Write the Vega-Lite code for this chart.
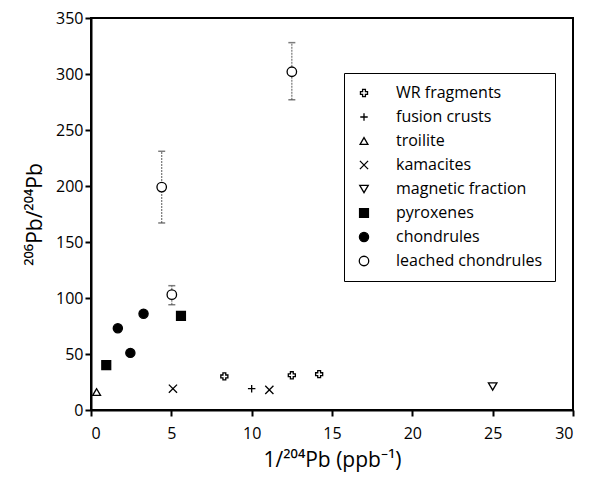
{
  "$schema": "https://vega.github.io/schema/vega-lite/v6.json",
  "width": 482,
  "height": 392,
  "autosize": "none",
  "padding": {"left": 91, "top": 18, "right": 17, "bottom": 73},
  "background": "white",
  "config": {
    "font": "Open Sans",
    "view": {"stroke": "black", "strokeWidth": 2},
    "axis": {"grid": false, "domainColor": "black", "domainWidth": 2, "tickColor": "black", "tickWidth": 2, "labelColor": "black", "titleColor": "black", "labelFont": "Open Sans", "titleFont": "Open Sans", "titleFontWeight": "normal", "labelFontSize": 16, "titleFontSize": 21}
  },
  "data": {"values": [
    {"type": "WR fragments", "x": 8.3, "y": 30, "lo": null, "hi": null},
    {"type": "WR fragments", "x": 12.5, "y": 31, "lo": null, "hi": null},
    {"type": "WR fragments", "x": 14.2, "y": 32, "lo": null, "hi": null},
    {"type": "fusion crusts", "x": 10.0, "y": 19, "lo": null, "hi": null},
    {"type": "troilite", "x": 0.35, "y": 16, "lo": null, "hi": null},
    {"type": "kamacites", "x": 5.1, "y": 19, "lo": null, "hi": null},
    {"type": "kamacites", "x": 11.1, "y": 18, "lo": null, "hi": null},
    {"type": "magnetic fraction", "x": 25.0, "y": 21, "lo": null, "hi": null},
    {"type": "pyroxenes", "x": 0.95, "y": 40, "lo": null, "hi": null},
    {"type": "pyroxenes", "x": 5.6, "y": 84, "lo": null, "hi": null},
    {"type": "chondrules", "x": 1.67, "y": 73, "lo": null, "hi": null},
    {"type": "chondrules", "x": 2.45, "y": 51, "lo": null, "hi": null},
    {"type": "chondrules", "x": 3.27, "y": 86, "lo": null, "hi": null},
    {"type": "leached chondrules", "x": 5.03, "y": 103, "lo": 94, "hi": 111},
    {"type": "leached chondrules", "x": 4.4, "y": 199, "lo": 167, "hi": 231},
    {"type": "leached chondrules", "x": 12.5, "y": 302, "lo": 277, "hi": 328}
  ]},
  "layer": [
    {
      "mark": {"type": "rule", "color": "#777", "strokeWidth": 1.2, "strokeDash": [2, 1]},
      "transform": [{"filter": "datum.lo != null"}],
      "encoding": {
        "x": {"field": "x", "type": "quantitative", "scale": {"domain": [0, 30], "nice": false}},
        "y": {"field": "lo", "type": "quantitative", "scale": {"domain": [0, 350], "nice": false}},
        "y2": {"field": "hi"}
      }
    },
    {
      "mark": {"type": "tick", "orient": "horizontal", "color": "#444", "size": 7, "thickness": 1.5},
      "transform": [{"filter": "datum.lo != null"}],
      "encoding": {
        "x": {"field": "x", "type": "quantitative"},
        "y": {"field": "lo", "type": "quantitative"}
      }
    },
    {
      "mark": {"type": "tick", "orient": "horizontal", "color": "#444", "size": 7, "thickness": 1.5},
      "transform": [{"filter": "datum.lo != null"}],
      "encoding": {
        "x": {"field": "x", "type": "quantitative"},
        "y": {"field": "hi", "type": "quantitative"}
      }
    },
    {
      "mark": {"type": "point", "strokeWidth": 1.3, "opacity": 1},
      "encoding": {
        "x": {"field": "x", "type": "quantitative", "axis": {"title": "1/²⁰⁴Pb (ppb⁻¹)", "values": [0, 5, 10, 15, 20, 25, 30], "ticks": true, "tickSize": 6, "tickColor": "black", "tickWidth": 2, "labelPadding": 9, "titlePadding": 8}},
        "y": {"field": "y", "type": "quantitative", "axis": {"title": "²⁰⁶Pb/²⁰⁴Pb", "values": [0, 50, 100, 150, 200, 250, 300, 350], "ticks": true, "tickSize": 6, "tickColor": "black", "tickWidth": 2, "labelPadding": 2, "titlePadding": 10}},
        "shape": {"field": "type", "type": "nominal", "title": null,
          "scale": {"domain": ["WR fragments", "fusion crusts", "troilite", "kamacites", "magnetic fraction", "pyroxenes", "chondrules", "leached chondrules"],
            "range": ["cross", "M-1,0H1M0,-1V1", "triangle-up", "M-1,-1L1,1M-1,1L1,-1", "triangle-down", "square", "circle", "circle"]},
          "legend": {"orient": "none", "legendX": 253, "legendY": 55, "strokeColor": "black", "padding": 12, "labelFontSize": 16, "labelFont": "Open Sans", "labelColor": "black", "rowPadding": 8, "labelOffset": 24, "symbolStrokeWidth": 1.3}},
        "fill": {"field": "type", "type": "nominal", "title": null,
          "scale": {"domain": ["WR fragments", "fusion crusts", "troilite", "kamacites", "magnetic fraction", "pyroxenes", "chondrules", "leached chondrules"],
            "range": ["white", "white", "white", "white", "white", "black", "black", "white"]}},
        "stroke": {"field": "type", "type": "nominal", "title": null,
          "scale": {"domain": ["WR fragments", "fusion crusts", "troilite", "kamacites", "magnetic fraction", "pyroxenes", "chondrules", "leached chondrules"],
            "range": ["black", "black", "black", "black", "black", "black", "black", "black"]}},
        "size": {"field": "type", "type": "nominal", "title": null,
          "scale": {"domain": ["WR fragments", "fusion crusts", "troilite", "kamacites", "magnetic fraction", "pyroxenes", "chondrules", "leached chondrules"],
            "range": [50, 90, 60, 70, 60, 180, 150, 100]}}
      }
    }
  ]
}
